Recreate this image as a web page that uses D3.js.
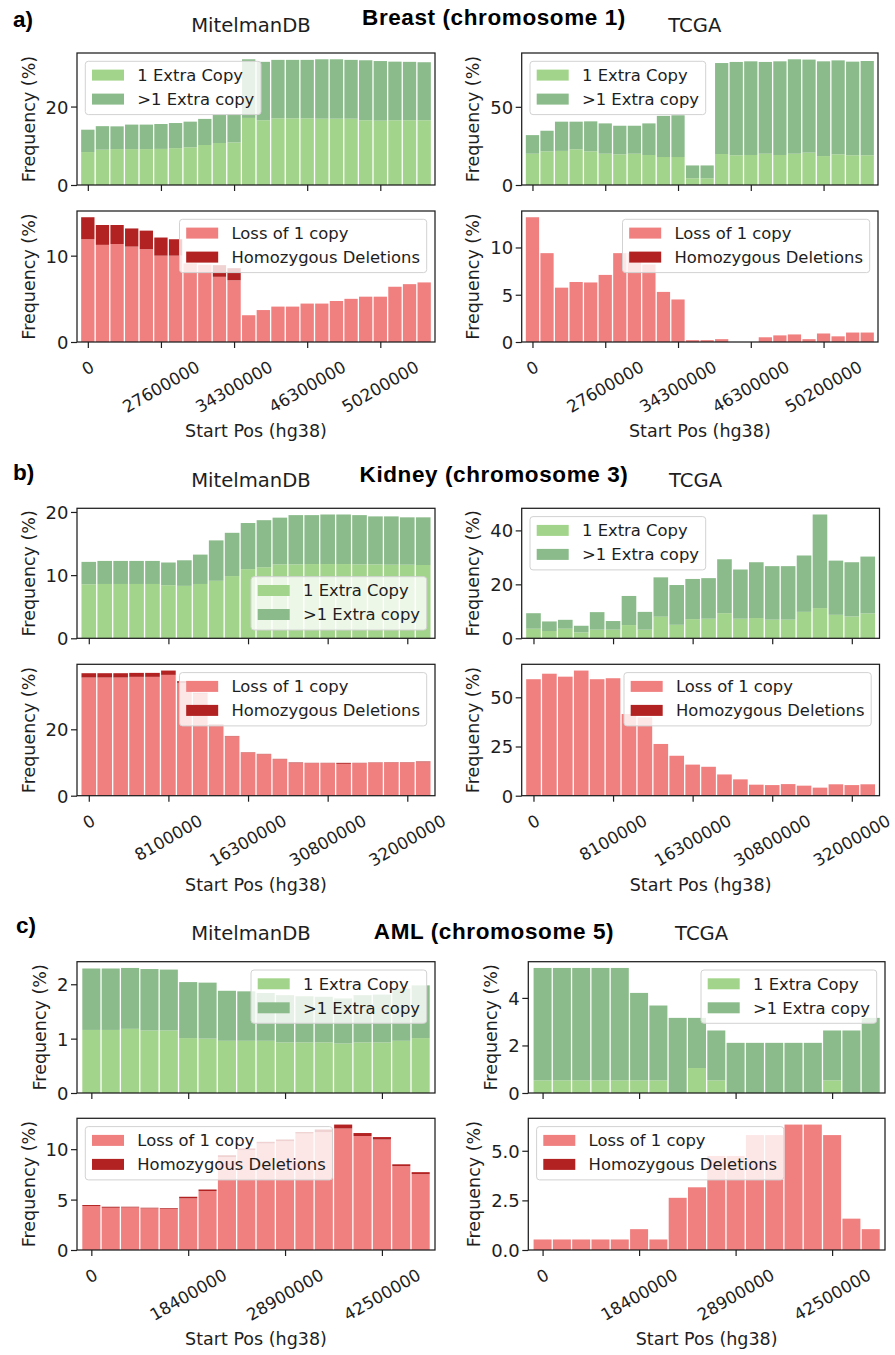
<!DOCTYPE html>
<html><head><meta charset="utf-8">
<script src="https://cdn.jsdelivr.net/npm/d3@7"></script>
<style>body{margin:0;background:#fff}svg{display:block}</style>
</head><body>
<svg id="chart" width="895" height="1355"></svg>
<script>
// ---------------- DATA ----------------
const sectionLetters = ["a)", "b)", "c)"];
const sectionTitles = ["Breast (chromosome 1)", "Kidney (chromosome 3)", "AML (chromosome 5)"];
const sourceNames = ["MitelmanDB", "TCGA"];
const gainLegendLabels = ["1 Extra Copy", ">1 Extra copy"];
const lossLegendLabels = ["Loss of 1 copy", "Homozygous Deletions"];
const xAxisTitle = "Start Pos (hg38)";
const yAxisTitle = "Frequency (%)";

const breastTickLabels = ["0", "27600000", "34300000", "46300000", "50200000"];
const kidneyTickLabels = ["0", "8100000", "16300000", "30800000", "32000000"];
const amlTickLabels = ["0", "18400000", "28900000", "42500000"];

// Breast, chromosome 1 (24 bins)
const breastMitelmanOneExtra = [8.4, 9.0, 9.15, 9.15, 9.15, 9.2, 9.4, 9.6, 10.2, 10.7, 10.85, 17.1, 16.5, 17.0, 17.0, 17.0, 16.9, 16.9, 16.9, 16.5, 16.4, 16.5, 16.5, 16.5];
const breastMitelmanMoreExtra = [5.7, 6.0, 5.8, 6.25, 6.25, 6.35, 6.4, 6.55, 6.65, 7.2, 7.25, 14.95, 14.9, 14.9, 14.9, 14.9, 15.15, 15.15, 15.0, 15.3, 15.2, 14.95, 14.9, 14.8];
const breastTcgaOneExtra = [20.0, 21.5, 21.8, 22.8, 21.5, 20.0, 19.6, 20.0, 19.2, 17.9, 17.9, 4.3, 4.3, 19.8, 19.0, 19.2, 20.0, 19.2, 20.0, 20.7, 18.5, 19.6, 19.0, 19.0];
const breastTcgaMoreExtra = [11.9, 13.2, 18.7, 17.7, 19.2, 19.4, 18.3, 17.9, 20.2, 26.3, 26.7, 8.2, 8.2, 58.2, 59.7, 59.9, 58.7, 59.9, 60.4, 59.5, 60.6, 60.1, 59.9, 60.3];
const breastMitelmanLossOne = [11.9, 11.25, 11.35, 11.05, 10.75, 10.0, 10.0, 9.1, 8.95, 7.55, 7.15, 3.1, 3.7, 4.1, 4.1, 4.45, 4.45, 4.75, 5.0, 5.25, 5.25, 6.4, 6.7, 6.9];
const breastMitelmanHomDel = [2.55, 2.3, 2.2, 2.1, 2.15, 2.1, 1.9, 0.0, 0.0, 1.35, 1.4, 0, 0, 0, 0, 0, 0, 0, 0, 0, 0, 0, 0, 0];
const breastTcgaLossOne = [13.2, 9.4, 5.75, 6.35, 6.3, 7.1, 9.4, 9.4, 8.2, 5.3, 4.5, 0.2, 0.2, 0.3, 0, 0, 0.5, 0.7, 0.8, 0.3, 0.9, 0.6, 1.0, 1.0];
const breastTcgaHomDel = [0, 0, 0, 0, 0, 0, 0, 0, 0, 0, 0, 0, 0, 0, 0, 0, 0, 0, 0, 0, 0, 0, 0, 0];

// Kidney, chromosome 3 (22 bins)
const kidneyMitelmanOneExtra = [8.55, 8.6, 8.6, 8.6, 8.6, 8.4, 8.3, 8.6, 9.1, 9.85, 10.95, 11.25, 11.7, 11.7, 11.75, 11.75, 11.75, 11.7, 11.7, 11.65, 11.65, 11.6];
const kidneyMitelmanMoreExtra = [3.55, 3.65, 3.65, 3.65, 3.65, 3.6, 4.05, 4.65, 6.4, 6.85, 7.3, 7.45, 7.4, 7.8, 7.75, 7.85, 7.85, 7.8, 7.6, 7.65, 7.5, 7.55];
const kidneyTcgaOneExtra = [3.55, 2.7, 3.55, 2.2, 3.2, 3.2, 4.9, 3.2, 8.0, 5.0, 7.1, 7.25, 9.3, 7.25, 7.5, 6.9, 6.9, 9.8, 11.2, 8.7, 8.1, 9.2];
const kidneyTcgaMoreExtra = [5.75, 3.55, 3.3, 2.45, 6.5, 3.2, 10.8, 6.6, 14.6, 14.75, 14.9, 15.05, 20.0, 18.25, 20.7, 19.85, 19.85, 20.9, 34.7, 20.1, 20.1, 21.1];
const kidneyMitelmanLossOne = [35.6, 35.6, 35.6, 35.8, 35.8, 36.4, 34.0, 30.8, 21.4, 17.9, 13.0, 12.5, 11.0, 9.8, 9.8, 9.8, 9.6, 9.8, 9.95, 10.0, 10.0, 10.1];
const kidneyMitelmanHomDel = [1.3, 1.3, 1.3, 1.2, 1.2, 1.3, 0.5, 0.2, 0.1, 0.1, 0.1, 0.1, 0.1, 0.2, 0.1, 0.1, 0.3, 0.1, 0.1, 0.1, 0.1, 0.2];
const kidneyTcgaLossOne = [59.2, 62.0, 60.5, 63.6, 59.2, 59.7, 41.5, 39.8, 26.3, 20.3, 15.8, 14.7, 10.8, 8.3, 5.6, 5.4, 5.9, 5.1, 4.1, 5.8, 5.4, 5.8];
const kidneyTcgaHomDel = [0, 0, 0, 0, 0, 0, 0, 0, 0, 0, 0, 0, 0, 0, 0, 0, 0, 0, 0, 0, 0, 0];

// AML, chromosome 5 (18 bins)
const amlMitelmanOneExtra = [1.16, 1.16, 1.18, 1.15, 1.15, 1.01, 1.0, 0.96, 0.96, 0.96, 0.93, 0.93, 0.93, 0.91, 0.93, 0.93, 0.96, 1.01];
const amlMitelmanMoreExtra = [1.13, 1.13, 1.12, 1.13, 1.12, 1.03, 1.03, 0.92, 0.91, 0.88, 0.87, 0.85, 0.84, 0.83, 0.87, 0.88, 0.96, 0.97];
const amlTcgaOneExtra = [0.53, 0.53, 0.53, 0.53, 0.53, 0.53, 0.53, 0, 1.05, 0.53, 0, 0, 0, 0, 0, 0.53, 0, 0];
const amlTcgaMoreExtra = [4.73, 4.73, 4.73, 4.73, 4.73, 3.68, 3.15, 3.16, 2.11, 2.10, 2.11, 2.11, 2.11, 2.11, 2.11, 2.10, 2.63, 3.16];
const amlMitelmanLossOne = [4.36, 4.19, 4.22, 4.13, 4.09, 5.12, 5.84, 9.2, 9.9, 10.56, 10.8, 11.55, 11.7, 12.05, 11.3, 10.96, 8.32, 7.52];
const amlMitelmanHomDel = [0.1, 0.1, 0.07, 0.06, 0.07, 0.16, 0.16, 0.2, 0.17, 0.17, 0.16, 0.15, 0.25, 0.39, 0.3, 0.24, 0.18, 0.2];
const amlTcgaLossOne = [0.53, 0.53, 0.53, 0.53, 0.53, 1.05, 0.53, 2.63, 3.16, 4.74, 4.74, 5.79, 5.79, 6.32, 6.32, 5.79, 1.58, 1.05];
const amlTcgaHomDel = [0, 0, 0, 0, 0, 0, 0, 0, 0, 0, 0, 0, 0, 0, 0, 0, 0, 0];

// y tick values per chart
const yTicksBreast = { mGain: [0, 20], tGain: [0, 50], mLoss: [0, 10], tLoss: [0, 5, 10] };
const yTicksKidney = { mGain: [0, 10, 20], tGain: [0, 20, 40], mLoss: [0, 20], tLoss: [0, 25, 50] };
const yTicksAml = { mGain: [0, 1, 2], tGain: [0, 2, 4], mLoss: [0, 5, 10], tLoss: [0, 2.5, 5] };

// ---------------- STYLE / LAYOUT ----------------
const gainColors = ["#a3d48b", "#8bbb8b"];
const lossColors = ["#f08080", "#b22222"];
const INK = "#1e1e1e";
const FONT = "'DejaVu Sans', sans-serif";
const BOLD = "'Liberation Sans', Arial, sans-serif";
const YTICK_FS = 18, XTICK_FS = 16.8, LABEL_FS = 17.5, LEG_FS = 16.4, SUB_FS = 19.6, SEC_FS = 22.5;

const rows = [
  { letter: sectionLetters[0], title: sectionTitles[0], ticks: breastTickLabels, yt: yTicksBreast,
    letterPos: [13, 27], titleY: 25.2, subY: 31.7,
    gainY: [53, 185], lossY: [211, 342], colL: [77, 435], colR: [521.7, 878],
    data: { mGain: [breastMitelmanOneExtra, breastMitelmanMoreExtra], tGain: [breastTcgaOneExtra, breastTcgaMoreExtra],
            mLoss: [breastMitelmanLossOne, breastMitelmanHomDel], tLoss: [breastTcgaLossOne, breastTcgaHomDel] },
    leg: { mGain: "ul", tGain: "ul", mLoss: "ur", tLoss: "ur" } },
  { letter: sectionLetters[1], title: sectionTitles[1], ticks: kidneyTickLabels, yt: yTicksKidney,
    letterPos: [13, 480], titleY: 481.7, subY: 486.7,
    gainY: [508.3, 638.3], lossY: [664.3, 795.7], colL: [77, 435], colR: [521.7, 879.5],
    data: { mGain: [kidneyMitelmanOneExtra, kidneyMitelmanMoreExtra], tGain: [kidneyTcgaOneExtra, kidneyTcgaMoreExtra],
            mLoss: [kidneyMitelmanLossOne, kidneyMitelmanHomDel], tLoss: [kidneyTcgaLossOne, kidneyTcgaHomDel] },
    leg: { mGain: "lr", tGain: "ul", mLoss: "ur", tLoss: "ur" } },
  { letter: sectionLetters[2], title: sectionTitles[2], ticks: amlTickLabels, yt: yTicksAml,
    letterPos: [16, 933], titleY: 939.3, subY: 940,
    gainY: [961.7, 1093], lossY: [1118.3, 1250], colL: [77, 435], colR: [528.3, 885],
    data: { mGain: [amlMitelmanOneExtra, amlMitelmanMoreExtra], tGain: [amlTcgaOneExtra, amlTcgaMoreExtra],
            mLoss: [amlMitelmanLossOne, amlMitelmanHomDel], tLoss: [amlTcgaLossOne, amlTcgaHomDel] },
    leg: { mGain: "ur", tGain: "ur", mLoss: "ul", tLoss: "ul" },
    yFmt: { tLoss: d3.format(".1f") } }
];

const svg = d3.select("#chart");
svg.append("rect").attr("width", 895).attr("height", 1355).attr("fill", "#fff");

function drawLegend(g, labels, colors, loc, x0, x1, y0, y1) {
  const lg = g.append("g");
  const tmp = labels.map(l => {
    const t = lg.append("text").attr("font-family", FONT).attr("font-size", LEG_FS).text(l);
    const w = t.node().getComputedTextLength(); t.remove(); return w;
  });
  const w = 6.7 + 32 + 13.3 + d3.max(tmp) + 6.7, h = 53.3, pad = 8.3;
  const lx = loc.endsWith("l") ? x0 + pad : x1 - pad - w;
  const ly = loc.startsWith("u") ? y0 + pad : y1 - pad - h;
  lg.append("rect").attr("x", lx).attr("y", ly).attr("width", w).attr("height", h).attr("rx", 3)
    .attr("fill", "#fff").attr("fill-opacity", 0.8).attr("stroke", "#d2d2d2").attr("stroke-width", 1);
  labels.forEach((l, i) => {
    lg.append("rect").attr("x", lx + 6.7).attr("y", ly + 8.3 + i * 24).attr("width", 32).attr("height", 11).attr("fill", colors[i]);
    lg.append("text").attr("x", lx + 52).attr("y", ly + 8.3 + 5.5 + i * 24 + 0.36 * LEG_FS)
      .attr("font-family", FONT).attr("font-size", LEG_FS).attr("fill", INK).text(l);
  });
}

function drawChart(cfg) {
  const { x: [x0, x1], y: [y0, y1], lower, upper, colors, yTicks, yFmt, tickLabels, legendLabels, legendLoc } = cfg;
  const g = svg.append("g");
  const n = lower.length;
  const totals = lower.map((v, i) => v + upper[i]);
  const xs = d3.scaleLinear().domain([-0.74, n - 0.26]).range([x0, x1]);
  const ys = d3.scaleLinear().domain([0, d3.max(totals) * 1.05]).range([y1, y0]);
  const gap = 1.3, pitch = xs(1) - xs(0);
  g.append("g").selectAll("rect").data(lower).join("rect")
    .attr("x", (d, i) => xs(i - 0.5) + gap / 2).attr("width", pitch - gap)
    .attr("y", d => ys(d)).attr("height", d => ys(0) - ys(d)).attr("fill", colors[0]);
  g.append("g").selectAll("rect").data(upper).join("rect")
    .attr("x", (d, i) => xs(i - 0.5) + gap / 2).attr("width", pitch - gap)
    .attr("y", (d, i) => ys(lower[i] + d)).attr("height", (d, i) => ys(lower[i]) - ys(lower[i] + d)).attr("fill", colors[1]);

  // y axis
  const ya = g.append("g").attr("transform", `translate(${x0},0)`)
    .call(d3.axisLeft(ys).tickValues(yTicks).tickSize(6).tickPadding(2.5).tickFormat(yFmt || d3.format("d")));
  ya.select(".domain").remove();
  ya.selectAll("line").attr("stroke", INK).attr("stroke-width", 1.2);
  ya.selectAll("text").attr("font-family", FONT).attr("font-size", YTICK_FS).attr("fill", INK).attr("dy", null)
    .attr("y", 0.36 * YTICK_FS);
  let minX = 0;
  ya.selectAll("text").each(function () { const b = this.getBBox(); minX = Math.min(minX, b.x); });
  const lblX = x0 + minX - 11;
  g.append("text").attr("transform", `translate(${lblX},${(y0 + y1) / 2}) rotate(-90)`)
    .attr("text-anchor", "middle").attr("font-family", FONT).attr("font-size", LABEL_FS).attr("fill", INK).text(yAxisTitle);

  // x axis
  const tickIdx = d3.range(0, n, 5);
  const xa = g.append("g").attr("transform", `translate(0,${y1})`)
    .call(d3.axisBottom(xs).tickValues(tickIdx).tickSize(6).tickFormat(""));
  xa.select(".domain").remove();
  xa.selectAll("line").attr("stroke", INK).attr("stroke-width", 1.2);
  if (tickLabels) {
    tickIdx.forEach((ti, k) => {
      const t = g.append("text").attr("font-family", FONT).attr("font-size", XTICK_FS).attr("fill", INK)
        .attr("text-anchor", "middle").attr("y", 0.36 * XTICK_FS).text(tickLabels[k]);
      const w = t.node().getComputedTextLength();
      const hb = w * 0.5 + XTICK_FS * 0.866;
      t.attr("transform", `translate(${xs(ti)},${y1 + 16 + hb / 2}) rotate(-30)`);
    });
    g.append("text").attr("x", (x0 + x1) / 2).attr("y", y1 + 95).attr("text-anchor", "middle")
      .attr("font-family", FONT).attr("font-size", LABEL_FS).attr("fill", INK).text(xAxisTitle);
  }
  // frame
  g.append("rect").attr("x", x0).attr("y", y0).attr("width", x1 - x0).attr("height", y1 - y0)
    .attr("fill", "none").attr("stroke", INK).attr("stroke-width", 1.25);
  drawLegend(g, legendLabels, colors, legendLoc, x0, x1, y0, y1);
}

rows.forEach(r => {
  svg.append("text").attr("x", r.letterPos[0]).attr("y", r.letterPos[1]).attr("font-family", BOLD)
    .attr("font-weight", "bold").attr("font-size", SEC_FS).attr("fill", "#000").text(r.letter);
  svg.append("text").attr("x", 494).attr("y", r.titleY).attr("text-anchor", "middle").attr("font-family", BOLD)
    .attr("font-weight", "bold").attr("font-size", SEC_FS).attr("letter-spacing", 0.6).attr("fill", "#000").text(r.title);
  [[r.colL, sourceNames[0]], [r.colR, sourceNames[1]]].forEach(([c, name]) => {
    svg.append("text").attr("x", (c[0] + c[1]) / 2 - 5).attr("y", r.subY).attr("text-anchor", "middle")
      .attr("font-family", FONT).attr("font-size", SUB_FS).attr("fill", INK).text(name);
  });
  const yf = r.yFmt || {};
  const specs = [
    ["mGain", r.colL, r.gainY, gainColors, gainLegendLabels, false],
    ["tGain", r.colR, r.gainY, gainColors, gainLegendLabels, false],
    ["mLoss", r.colL, r.lossY, lossColors, lossLegendLabels, true],
    ["tLoss", r.colR, r.lossY, lossColors, lossLegendLabels, true]
  ];
  specs.forEach(([key, xr, yr, colors, labels, isLoss]) => {
    drawChart({ x: xr, y: yr, lower: r.data[key][0], upper: r.data[key][1], colors, yTicks: r.yt[key],
      yFmt: yf[key], tickLabels: isLoss ? r.ticks : null, legendLabels: labels, legendLoc: r.leg[key] });
  });
});
</script>
</body></html>
